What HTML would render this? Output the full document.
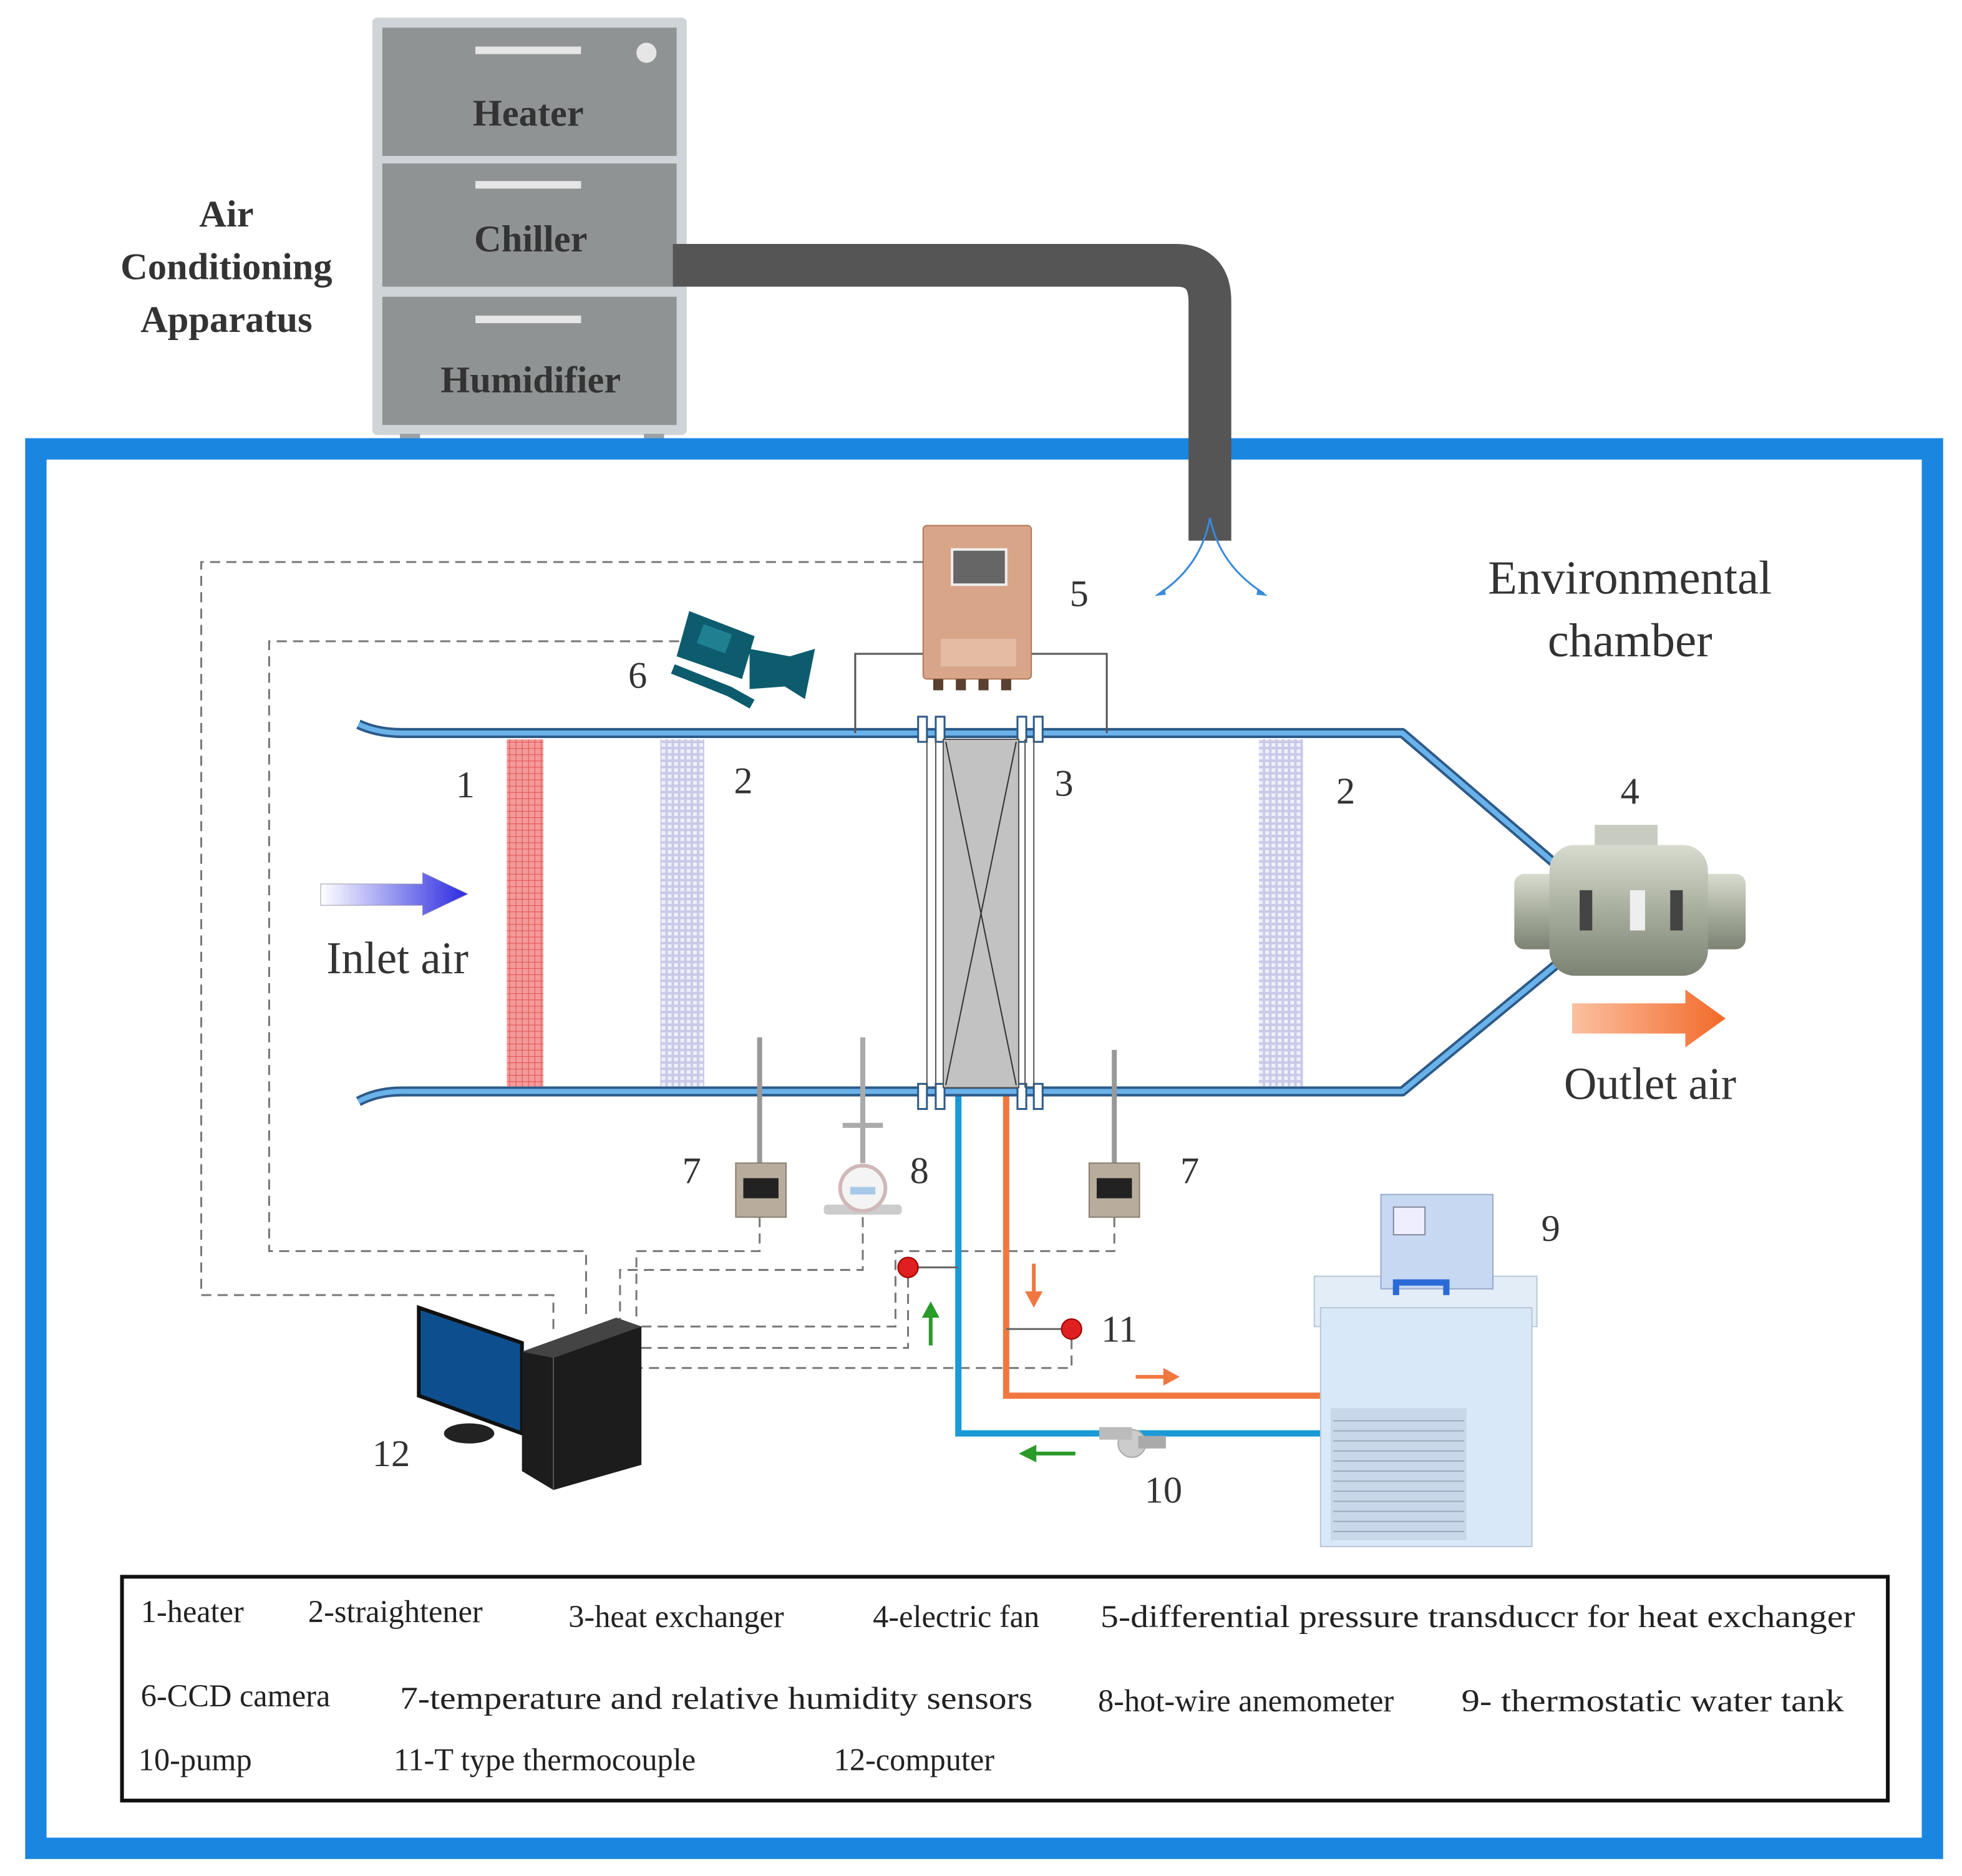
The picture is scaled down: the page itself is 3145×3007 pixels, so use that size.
<!DOCTYPE html>
<html><head><meta charset="utf-8"><style>html,body{margin:0;padding:0;background:#fff}svg{display:block}</style></head>
<body>
<svg width="3145" height="3007" viewBox="0 0 1560 1492" preserveAspectRatio="none" xmlns="http://www.w3.org/2000/svg" font-family="'Liberation Serif',serif">
<defs>
<pattern id="red" width="5" height="5" patternUnits="userSpaceOnUse"><rect width="5" height="5" fill="#f49a9a"/><path d="M0 0H5M0 0V5" stroke="#e05050" stroke-width="1"/></pattern>
<pattern id="lav" width="5" height="5" patternUnits="userSpaceOnUse"><rect width="5" height="5" fill="#c9c9e8"/><rect x="1" y="1" width="3" height="3" fill="#f0f0fa"/></pattern>
<linearGradient id="gin" x1="0" x2="1"><stop offset="0" stop-color="#fff"/><stop offset="1" stop-color="#2a2ae0"/></linearGradient>
<linearGradient id="gout" x1="0" x2="1"><stop offset="0" stop-color="#fbc0a0"/><stop offset="1" stop-color="#f26a2a"/></linearGradient>
<linearGradient id="gfan" x1="0" y1="0" x2="0" y2="1"><stop offset="0" stop-color="#d8dcd0"/><stop offset="0.5" stop-color="#a8ae9e"/><stop offset="1" stop-color="#7d8374"/></linearGradient>
</defs>

<!-- AC apparatus -->
<rect x="296" y="14" width="250" height="332" rx="4" fill="#cfd4d8"/>
<rect x="304" y="22" width="234" height="102" fill="#8f9393"/>
<rect x="304" y="130" width="234" height="98" fill="#8f9393"/>
<rect x="304" y="236" width="234" height="102" fill="#8f9393"/>
<rect x="378" y="37" width="84" height="6" fill="#e6e6e6"/>
<rect x="378" y="144" width="84" height="6" fill="#e6e6e6"/>
<rect x="378" y="251" width="84" height="6" fill="#e6e6e6"/>
<circle cx="514" cy="42" r="8" fill="#e6e6e6"/>
<rect x="318" y="345" width="16" height="10" fill="#9aa2a8"/>
<rect x="512" y="345" width="16" height="10" fill="#9aa2a8"/>
<g font-size="30" font-weight="bold" fill="#333" text-anchor="middle">
<text x="420" y="100">Heater</text><text x="422" y="200">Chiller</text><text x="422" y="312">Humidifier</text>
<text x="180" y="180">Air</text><text x="180" y="222">Conditioning</text><text x="180" y="264">Apparatus</text>
</g>

<!-- chamber -->
<rect x="28.5" y="357" width="1508" height="1113" fill="none" stroke="#1a86e0" stroke-width="17"/>

<!-- duct -->
<path d="M535 211H935Q962 211 962 240V430" fill="none" stroke="#555" stroke-width="34"/>
<path d="M962 412Q955 450 922 472M962 412Q970 450 1005 472" fill="none" stroke="#3a8ad8" stroke-width="1.5"/>
<path d="M918 474l8-6 1 5zM1008 474l-8-6-1 5z" fill="#3a8ad8"/>

<g font-size="38" fill="#333" text-anchor="middle"><text x="1296" y="472">Environmental</text><text x="1296" y="522">chamber</text></g>

<!-- test duct walls -->
<g fill="none" stroke-linejoin="round">
<path d="M285 576Q300 583 320 583H1115L1240 690M285 876Q300 868 320 868H1115L1240 765" stroke="#2d5a88" stroke-width="8"/>
<path d="M285 576Q300 583 320 583H1115L1240 690M285 876Q300 868 320 868H1115L1240 765" stroke="#6ab3ea" stroke-width="4"/>
</g>
<!-- flanges -->
<g fill="#fff" stroke="#2d5a88" stroke-width="1.5">
<rect x="730" y="570" width="7" height="20"/><rect x="744" y="570" width="7" height="20"/>
<rect x="809" y="570" width="7" height="20"/><rect x="822" y="570" width="7" height="20"/>
<rect x="730" y="862" width="7" height="20"/><rect x="744" y="862" width="7" height="20"/>
<rect x="809" y="862" width="7" height="20"/><rect x="822" y="862" width="7" height="20"/>
</g>
<path d="M737 588V865M744 588V865M815 588V865M822 588V865" stroke="#555" stroke-width="1"/>
<rect x="750" y="588" width="60" height="277" fill="#c2c2c2" stroke="#555" stroke-width="1"/>
<path d="M752 590L808 863M808 590L752 863" stroke="#333" stroke-width="1"/>
<rect x="403" y="588" width="29" height="276" fill="url(#red)"/>
<rect x="525" y="588" width="35" height="276" fill="url(#lav)"/>
<rect x="1001" y="588" width="35" height="276" fill="url(#lav)"/>

<!-- arrows -->
<path d="M255 703H336V694L372 711L336 728V720H255Z" fill="url(#gin)" stroke="#99a" stroke-width="0.5"/>
<path d="M1250 798H1340V787L1372 810L1340 833V822H1250Z" fill="url(#gout)"/>
<g font-size="36" fill="#333" text-anchor="middle"><text x="316" y="774">Inlet air</text><text x="1312" y="874">Outlet air</text></g>

<!-- fan -->
<rect x="1268" y="656" width="50" height="22" fill="#c8ccc0"/>
<rect x="1204" y="695" width="184" height="60" rx="8" fill="url(#gfan)"/>
<rect x="1232" y="672" width="126" height="104" rx="20" fill="url(#gfan)"/>
<rect x="1256" y="708" width="10" height="32" fill="#444"/><rect x="1328" y="708" width="10" height="32" fill="#444"/>
<rect x="1296" y="708" width="12" height="32" fill="#eee"/>

<!-- transducer 5 -->
<path d="M735 520H680V583M820 520H880V583" fill="none" stroke="#555" stroke-width="1.5"/>
<rect x="734" y="418" width="86" height="122" rx="3" fill="#d9a589" stroke="#b07a5a"/>
<rect x="757" y="437" width="43" height="28" fill="#666" stroke="#eee" stroke-width="2"/>
<rect x="748" y="508" width="60" height="22" fill="#e4bca4"/>
<g fill="#5a4030"><rect x="742" y="540" width="8" height="9"/><rect x="760" y="540" width="8" height="9"/><rect x="778" y="540" width="8" height="9"/><rect x="796" y="540" width="8" height="9"/></g>

<!-- camera 6 -->
<path d="M548 486L600 506L590 540L538 522Z" fill="#0d5c6e"/>
<path d="M596 516L628 522L648 516L640 556L624 546L596 548Z" fill="#0d5c6e"/>
<path d="M535 532L580 550L598 560" fill="none" stroke="#0d5c6e" stroke-width="8"/>
<rect x="556" y="500" width="24" height="16" fill="#1e8090" transform="rotate(20 568 508)"/>

<!-- dashed wires -->
<g fill="none" stroke="#777" stroke-width="1.5" stroke-dasharray="8 5">
<path d="M734 447H160V1030H440V1058"/>
<path d="M540 510H214V995H466V1050"/>
<path d="M604 968V995H506V1050"/>
<path d="M686 968V1010H493V1055"/>
<path d="M886 968V995H712V1055H510"/>
<path d="M722 1016V1072H510"/>
<path d="M852 1065V1088H510"/>
</g>

<!-- sensors 7 & 8 -->
<rect x="602" y="825" width="4" height="100" fill="#999"/>
<rect x="585" y="925" width="40" height="43" fill="#b8ad9c" stroke="#8a8070"/>
<rect x="591" y="937" width="28" height="16" fill="#222"/>
<rect x="884" y="835" width="4" height="90" fill="#999"/>
<rect x="866" y="925" width="40" height="43" fill="#b8ad9c" stroke="#8a8070"/>
<rect x="872" y="937" width="28" height="16" fill="#222"/>
<rect x="684" y="825" width="4" height="100" fill="#aaa"/>
<rect x="670" y="893" width="32" height="4" fill="#aaa"/>
<rect x="655" y="958" width="62" height="8" rx="3" fill="#ccc"/>
<circle cx="686" cy="945" r="18" fill="#f4f4f4" stroke="#d0b8b8" stroke-width="3"/>
<rect x="676" y="944" width="20" height="6" fill="#a8c8e8"/>

<g font-size="30" fill="#333" text-anchor="middle">
<text x="370" y="634">1</text><text x="591" y="631">2</text><text x="846" y="633">3</text><text x="1070" y="639">2</text><text x="1296" y="639">4</text><text x="858" y="482">5</text><text x="507" y="547">6</text><text x="550" y="941">7</text><text x="731" y="941">8</text><text x="946" y="941">7</text><text x="1233" y="987">9</text><text x="890" y="1067">11</text><text x="925" y="1195">10</text><text x="311" y="1166">12</text>
</g>

<!-- water pipes -->
<path d="M762 872V1140H1055" fill="none" stroke="#1a9ad6" stroke-width="5"/>
<path d="M800 872V1110H1055" fill="none" stroke="#f07840" stroke-width="5"/>
<path d="M722 1008H762M800 1057H852" stroke="#666" stroke-width="1.5"/>
<circle cx="722" cy="1008" r="8" fill="#e02020" stroke="#900"/>
<circle cx="852" cy="1057" r="8" fill="#e02020" stroke="#900"/>
<!-- pump -->
<circle cx="900" cy="1148" r="11" fill="#ccc" stroke="#aaa"/>
<rect x="874" y="1135" width="26" height="10" fill="#bbb"/>
<rect x="905" y="1142" width="22" height="10" fill="#aaa"/>
<!-- flow arrows -->
<path d="M822 1005V1030" stroke="#f07840" stroke-width="3"/><path d="M815 1027L822 1040L829 1027Z" fill="#f07840"/>
<path d="M740 1070V1045" stroke="#2a9a2a" stroke-width="3"/><path d="M733 1048L740 1035L747 1048Z" fill="#2a9a2a"/>
<path d="M903 1095H927" stroke="#f07840" stroke-width="3"/><path d="M925 1088L938 1095L925 1102Z" fill="#f07840"/>
<path d="M855 1156H822" stroke="#2a9a2a" stroke-width="3"/><path d="M824 1149L810 1156L824 1163Z" fill="#2a9a2a"/>

<!-- water tank 9 -->
<rect x="1045" y="1015" width="177" height="40" fill="#e2edf8" stroke="#b8c8d8"/>
<rect x="1050" y="1040" width="168" height="190" fill="#d9e8f8" stroke="#b8c8d8"/>
<rect x="1058" y="1120" width="108" height="105" fill="#c8d8ea"/>
<g stroke="#9aaabb" stroke-width="1"><path d="M1060 1130H1164M1060 1138H1164M1060 1146H1164M1060 1154H1164M1060 1162H1164M1060 1170H1164M1060 1178H1164M1060 1186H1164M1060 1194H1164M1060 1202H1164M1060 1210H1164M1060 1218H1164"/></g>
<rect x="1098" y="950" width="89" height="75" fill="#c6d8f2" stroke="#99aacc"/>
<rect x="1108" y="960" width="25" height="22" fill="#eef" stroke="#889"/>
<path d="M1110 1030V1020H1150V1030" fill="none" stroke="#2a6ad6" stroke-width="5"/>

<!-- computer 12 -->
<path d="M333 1040L415 1068V1140L333 1110Z" fill="#0d4f8e" stroke="#111" stroke-width="3"/>
<ellipse cx="373" cy="1140" rx="20" ry="8" fill="#222"/>
<path d="M415 1075L490 1048L510 1055V1165L440 1185L415 1170Z" fill="#1c1c1c"/>
<path d="M415 1075L490 1048L510 1055L440 1080Z" fill="#444"/>
<path d="M440 1080V1185" stroke="#555" stroke-width="1"/>

<!-- legend -->
<rect x="97" y="1254" width="1404" height="178" fill="none" stroke="#111" stroke-width="3"/>
<g font-size="25" fill="#222">
<text x="112" y="1290">1-heater</text><text x="245" y="1290">2-straightener</text><text x="452" y="1294">3-heat exchanger</text><text x="694" y="1294">4-electric fan</text><text x="875" y="1294" textLength="600" lengthAdjust="spacingAndGlyphs">5-differential pressure transduccr for heat exchanger</text>
<text x="112" y="1357">6-CCD camera</text><text x="318" y="1359" textLength="503" lengthAdjust="spacingAndGlyphs">7-temperature and relative humidity sensors</text><text x="873" y="1361">8-hot-wire anemometer</text><text x="1162" y="1361" textLength="304" lengthAdjust="spacingAndGlyphs">9- thermostatic water tank</text>
<text x="110" y="1408">10-pump</text><text x="313" y="1408">11-T type thermocouple</text><text x="663" y="1408">12-computer</text>
</g>
</svg>
</body></html>
